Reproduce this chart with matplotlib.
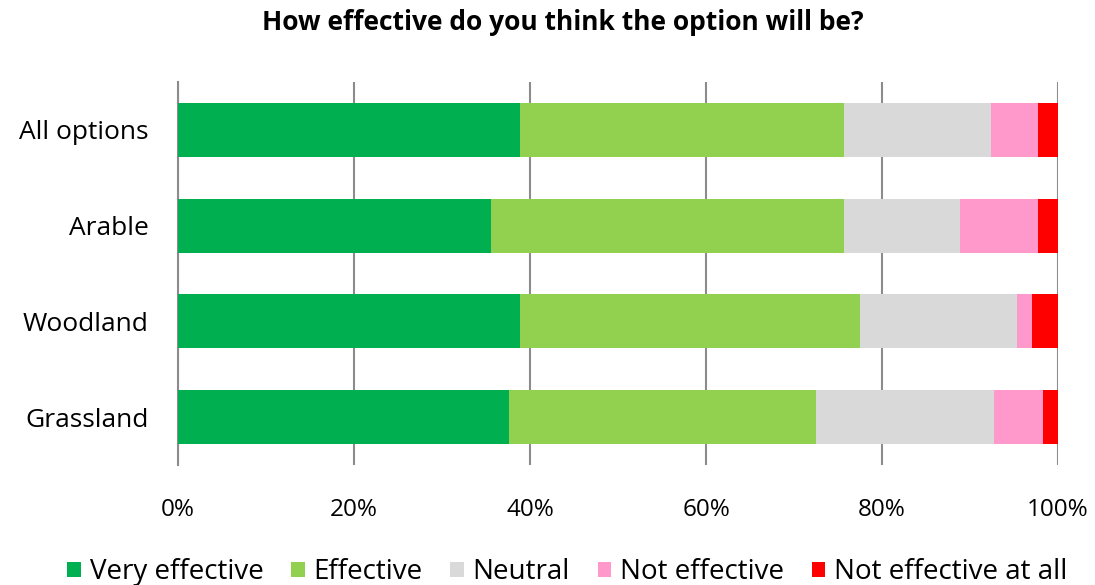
import matplotlib
matplotlib.use("Agg")
import matplotlib.pyplot as plt
import numpy as np

categories = ["All options", "Arable", "Woodland", "Grassland"]
series_names = ["Very effective", "Effective", "Neutral", "Not effective", "Not effective at all"]
very_effective = [38.8, 35.6, 38.8, 37.6]
effective = [36.9, 40.1, 38.7, 34.9]
neutral = [16.7, 13.2, 17.8, 20.2]
not_effective = [5.3, 8.8, 1.7, 5.6]
not_at_all = [2.3, 2.3, 3.0, 1.7]
colors = ["#00b050", "#92d050", "#d9d9d9", "#ff99cc", "#ff0000"]
tick_labels = ["0%", "20%", "40%", "60%", "80%", "100%"]

plt.rcParams["font.family"] = ["Open Sans", "DejaVu Sans"]

fig = plt.figure(figsize=(10.95, 5.85), dpi=100)
ax = fig.add_axes([0.1626, 0.205, 0.8037, 0.655])

series = [very_effective, effective, neutral, not_effective, not_at_all]
y = np.arange(len(categories))
left = np.zeros(len(categories))
handles = []
for name, vals, c in zip(series_names, series, colors):
    vals = np.array(vals, dtype=float)
    h = ax.barh(y, vals, left=left, height=0.565, color=c, label=name, zorder=3)
    handles.append(h)
    left += vals

ax.set_xlim(0, 100)
ax.set_ylim(len(categories) - 0.5, -0.5)
ax.set_yticks(y)
ax.set_yticklabels(categories, fontsize=19)
ax.set_xticks(np.arange(0, 101, 20))
ax.set_xticklabels(tick_labels, fontsize=17.5)
ax.tick_params(axis="y", length=0, pad=21)
ax.tick_params(axis="x", length=0, pad=24)
ax.grid(axis="x", color="#8c8c8c", linewidth=1.5, zorder=0)
for s in ["top", "right", "bottom"]:
    ax.spines[s].set_visible(False)
ax.spines["left"].set_color("#8c8c8c")
ax.spines["left"].set_linewidth(1.5)

fig.suptitle("How effective do you think the option will be?", x=0.514, y=0.985,
             fontsize=19, fontweight="bold")

fig.legend(handles=handles, labels=series_names, loc="lower center",
           bbox_to_anchor=(0.518, -0.045), ncol=5, frameon=False, fontsize=20,
           handlelength=0.5, handleheight=0.5, handletextpad=0.3, columnspacing=1.0)

fig.savefig("out.png", dpi=100)
